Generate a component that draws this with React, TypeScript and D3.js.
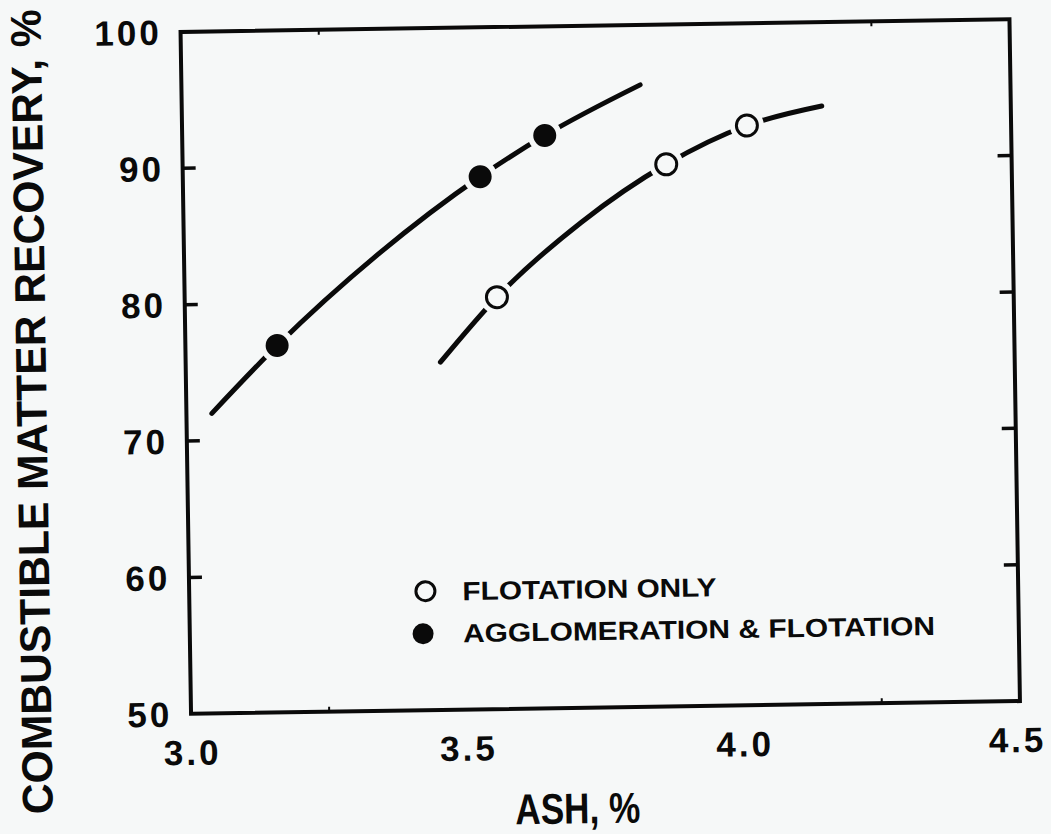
import React from "react";
import * as d3 from "d3";

// Axis ticks
const ashTicks = [3.0, 3.5, 4.0, 4.5];
const ashMinorTicks = [3.25, 4.25];
const recoveryTicks = [50, 60, 70, 80, 90, 100];
const recoveryInnerTicks = [60, 70, 80, 90];

// Measured points
const flotationAsh = [3.565, 3.875, 4.022];
const flotationRecovery = [80.2, 89.75, 92.5];
const agglomAsh = [3.166, 3.538, 3.656];
const agglomRecovery = [76.9, 89.05, 92.0];

// Hand-drawn fit curves through the measured points
const flotationFitAsh = [3.461, 3.565, 3.72, 3.875, 4.022, 4.158];
const flotationFitRecovery = [75.5, 80.2, 85.6, 89.75, 92.5, 93.85];
const agglomFitAsh = [3.046, 3.166, 3.352, 3.538, 3.656, 3.83];
const agglomFitRecovery = [72.0, 76.9, 83.5, 89.05, 92.0, 95.6];

const legendLabels = ["FLOTATION ONLY", "AGGLOMERATION & FLOTATION"];

const W = 1051;
const H = 834;
const BG = "#f6f8f8";
const INK = "#0a0a0a";
const FONT = "'Liberation Sans', Arial, Helvetica, sans-serif";

export default function App() {
  const x = d3.scaleLinear().domain([3.0, 4.5]).range([185.75, 1014.75]);
  const y = d3.scaleLinear().domain([50, 100]).range([707.5, 25.5]);
  const [x0, x1] = x.range();
  const [y0, y1] = y.range();

  const line = d3
    .line<[number, number]>()
    .x((d) => x(d[0]))
    .y((d) => y(d[1]))
    .curve(d3.curveMonotoneX);

  const flotationFit = line(flotationFitAsh.map((a, i) => [a, flotationFitRecovery[i]]));
  const agglomFit = line(agglomFitAsh.map((a, i) => [a, agglomFitRecovery[i]]));

  const cx = (x0 + x1) / 2;
  const cy = (y0 + y1) / 2;

  return (
    <svg
      width={W}
      height={H}
      viewBox={`0 0 ${W} ${H}`}
      style={{ position: "absolute", left: 0, top: 0, background: BG }}
    >
      <rect x={0} y={0} width={W} height={H} fill={BG} />
      <g transform={`rotate(-0.88 ${cx} ${cy})`} fontFamily={FONT} fill={INK}>
        {/* fit curves */}
        <path d={agglomFit || ""} fill="none" stroke={INK} strokeWidth={5} strokeLinecap="round" />
        <path d={flotationFit || ""} fill="none" stroke={INK} strokeWidth={5} strokeLinecap="round" />

        {/* agglomeration & flotation markers */}
        {agglomAsh.map((a, i) => (
          <g key={`a${i}`}>
            <circle cx={x(a)} cy={y(agglomRecovery[i])} r={17} fill={BG} />
            <circle cx={x(a)} cy={y(agglomRecovery[i])} r={11.5} fill={INK} />
          </g>
        ))}
        {/* flotation-only markers */}
        {flotationAsh.map((a, i) => (
          <g key={`f${i}`}>
            <circle cx={x(a)} cy={y(flotationRecovery[i])} r={17} fill={BG} />
            <circle
              cx={x(a)}
              cy={y(flotationRecovery[i])}
              r={10.5}
              fill={BG}
              stroke={INK}
              strokeWidth={3}
            />
          </g>
        ))}

        {/* frame */}
        <rect
          x={x0}
          y={y1}
          width={x1 - x0}
          height={y0 - y1}
          fill="none"
          stroke={INK}
          strokeWidth={4}
        />

        {/* y ticks, both sides, inward */}
        {recoveryInnerTicks.map((t) => (
          <g key={`yt${t}`} stroke={INK} strokeWidth={3.5}>
            <line x1={x0} x2={x0 + 13} y1={y(t)} y2={y(t)} />
            <line x1={x1} x2={x1 - 14} y1={y(t)} y2={y(t)} />
          </g>
        ))}
        {/* small x ticks */}
        {ashMinorTicks.map((t) => (
          <g key={`xt${t}`} stroke={INK} strokeWidth={2}>
            <line x1={x(t)} x2={x(t)} y1={y0} y2={y0 - 5} />
            <line x1={x(t)} x2={x(t)} y1={y1} y2={y1 + 5} />
          </g>
        ))}

        {/* y tick labels */}
        {recoveryTicks.map((t) => (
          <text
            key={`yl${t}`}
            x={167}
            y={y(t) + 12.5}
            textAnchor="end"
            fontSize={35}
            fontWeight="bold"
            letterSpacing={3}
          >
            {t}
          </text>
        ))}
        {/* x tick labels */}
        {ashTicks.map((t) => (
          <text
            key={`xl${t}`}
            x={x(t) + (t === 4.5 ? -3 : 1)}
            y={758.5}
            textAnchor="middle"
            fontSize={35}
            fontWeight="bold"
            letterSpacing={3}
          >
            {t.toFixed(1)}
          </text>
        ))}

        {/* axis titles */}
        <text
          x={571}
          y={823}
          textAnchor="middle"
          fontSize={43}
          fontWeight="bold"
          textLength={125}
          lengthAdjust="spacingAndGlyphs"
        >
          ASH, %
        </text>
        <text
          transform={`translate(46 403) rotate(-90)`}
          textAnchor="middle"
          fontSize={43}
          fontWeight="bold"
          textLength={805}
          lengthAdjust="spacingAndGlyphs"
        >
          COMBUSTIBLE MATTER RECOVERY, %
        </text>

        {/* legend */}
        <circle cx={422} cy={588.5} r={9.5} fill={BG} stroke={INK} strokeWidth={3} />
        <circle cx={419} cy={631} r={10.5} fill={INK} />
        <text
          x={459}
          y={588.5 + 9.5}
          fontSize={26}
          fontWeight="bold"
          textLength={254}
          lengthAdjust="spacingAndGlyphs"
        >
          {legendLabels[0]}
        </text>
        <text
          x={459}
          y={630.5 + 9.5}
          fontSize={26}
          fontWeight="bold"
          textLength={472}
          lengthAdjust="spacingAndGlyphs"
        >
          {legendLabels[1]}
        </text>
      </g>
    </svg>
  );
}
